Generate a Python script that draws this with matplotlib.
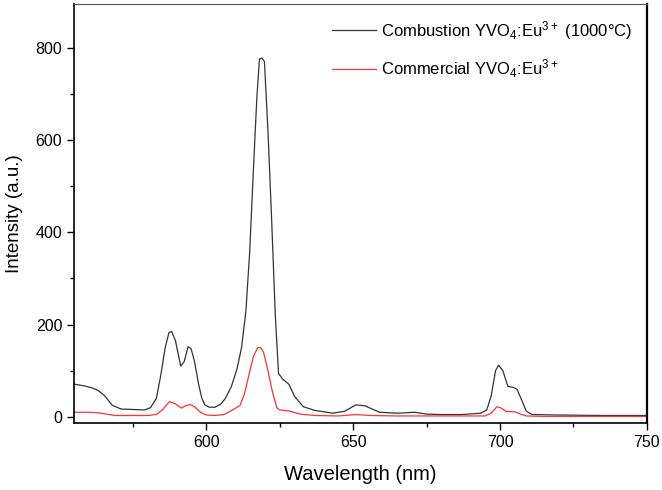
import matplotlib.pyplot as plt

plt.rcParams["font.family"] = ["Liberation Sans", "DejaVu Sans"]
plt.rcParams["mathtext.default"] = "regular"

# combustion sample
wl_comb = [555, 558.5, 561, 563, 565.5, 568, 571, 575, 579, 581, 583, 584.5, 586,
           587.3, 588.2, 589.5, 591.3, 592.5, 593.8, 594.8, 596, 597.3, 598.5, 599.5,
           601, 603, 605, 606.5, 608.5, 610.5, 612, 613.5, 614.8, 616, 617.2, 618.1,
           618.9, 619.8, 621, 622.3, 623.5, 624.6, 626, 628.2, 630, 633, 637, 643,
           647, 651, 654, 659, 665, 671, 675, 680, 687, 693.5, 695.5, 697, 698.5,
           699.5, 701, 702.7, 704.5, 705.8, 707.5, 709, 711, 720, 735, 750]
int_comb = [71, 67, 63, 58, 45, 25, 17, 16, 15, 20, 40, 90, 150,
            183, 185, 165, 110, 120, 152, 148, 120, 73, 40, 26,
            21, 21, 28, 40, 65, 105, 150, 230, 360, 530, 690, 775,
            778, 770, 620, 420, 220, 94, 82, 70, 45, 22, 14, 8,
            12, 26, 24, 10, 8, 10, 6, 5, 5, 8, 15, 45, 100,
            112, 100, 66, 64, 60, 35, 12, 5, 4, 3, 3]

# commercial sample
wl_comm = [555, 560, 563, 566, 569, 575, 580, 583, 585, 587.5, 589.5, 591.5,
           593, 594.5, 596, 598, 600, 603, 606, 609, 611.5, 613, 614.5, 616,
           617.5, 618.5, 619.5, 621, 622.5, 624, 625, 628, 632, 637, 645, 651,
           656, 665, 680, 695, 697, 699, 700.5, 702, 705, 707, 709, 715, 730, 750]
int_comm = [10, 10, 9, 6, 3, 3, 3, 5, 15, 33, 28, 19,
            24, 27, 22, 10, 4, 3, 5, 15, 25, 50, 90, 130,
            150, 150, 140, 100, 55, 20, 15, 13, 6, 3, 2, 5,
            3, 2, 2, 2, 8, 22, 19, 12, 11, 6, 2, 1, 1, 1]

fig = plt.figure(figsize=(6.62, 4.9), dpi=100)
ax = fig.add_axes([0.112, 0.137, 0.865, 0.855])

ax.plot(wl_comb, int_comb, color="#333333", lw=0.9,
        label="Combustion YVO$_4$:Eu$^{3+}$ (1000°C)")
ax.plot(wl_comm, int_comm, color="#ff3333", lw=0.9,
        label="Commercial YVO$_4$:Eu$^{3+}$")

ax.set_xlim(555, 750)
ax.set_ylim(-13, 895)
ax.set_xticks([600, 650, 700, 750])
ax.set_xticks([575, 625, 675, 725], minor=True)
ax.set_yticks([0, 200, 400, 600, 800])
ax.set_yticks([100, 300, 500, 700], minor=True)
ax.tick_params(labelsize=11.5, direction="out", length=5, width=1)
ax.tick_params(which="minor", direction="out", length=3, width=1)
ax.tick_params(top=False, right=False)

for s in ["left", "bottom"]:
    ax.spines[s].set_linewidth(1.2)
ax.spines["right"].set_linewidth(1.6)
ax.spines["top"].set_linewidth(0.8)
ax.spines["top"].set_color("#555555")

ax.set_xlabel("Wavelength (nm)", fontsize=14.5, labelpad=11)
ax.set_ylabel("Intensity (a.u.)", fontsize=13.5, labelpad=9)

ax.legend(loc="upper right", bbox_to_anchor=(1.0, 1.0), frameon=False,
          fontsize=12, handlelength=2.6, handletextpad=0.3, labelspacing=0.95)

fig.savefig("out.png", dpi=100)
